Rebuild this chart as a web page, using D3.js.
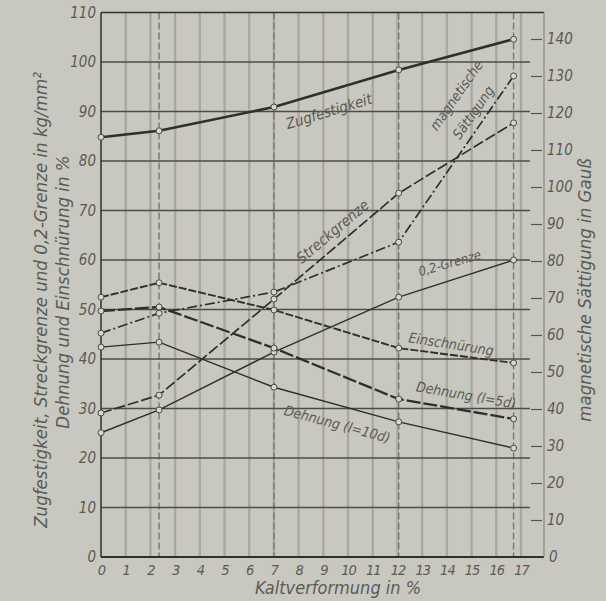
<!DOCTYPE html>
<html lang="de">
<head>
<meta charset="UTF-8" />
<title>Kaltverformung</title>
<script src="https://d3js.org/d3.v7.min.js"></script>
<style>
  html, body { margin: 0; padding: 0; background: #c9c8c0; }
  svg { display: block; background: #c9c8c0; }
  text { font-family: "DejaVu Sans Condensed", "Liberation Sans Narrow", "DejaVu Sans", sans-serif; font-style: italic; fill: #5a5a54; }
  .tick text { font-size: 15px; }
  .lbl { font-size: 14px; }
</style>
</head>
<body>
<svg width="606" height="601"></svg>
<script>
  // Kaltverformung in % (Messpunkte)
  const verformung = [0, 2.35, 7, 12.05, 16.7];

  // linke Skala (kg/mm² bzw. %)
  const zugfestigkeit  = [84.8, 86.1, 90.9, 98.4, 104.6];
  const streckgrenze   = [29.1, 32.7, 52.1, 73.5, 87.7];
  const grenze02       = [25.1, 29.7, 41.4, 52.5, 60.0];
  const einschnuerung  = [52.5, 55.4, 49.9, 42.2, 39.2];
  const dehnung5d      = [49.7, 50.5, 42.2, 31.9, 27.9];
  const dehnung10d     = [42.4, 43.4, 34.3, 27.3, 22.0];
  // rechte Skala (Gauß)
  const saettigung     = [60.5, 65.9, 71.6, 85.1, 130.0];

  const xTicks = d3.range(0, 18);
  const leftTicks = d3.range(0, 111, 10);
  const rightTicks = d3.range(0, 141, 10);

  const svg = d3.select("svg");
  const ink = "#2f2f2b";

  const x = d3.scaleLinear().domain([0, 17]).range([101, 521]);
  const yL = d3.scaleLinear().domain([0, 110]).range([557, 12.5]);
  const yR = d3.scaleLinear().domain([0, 140]).range([557, 39]);

  // vertikale Gitterlinien
  svg.append("g").selectAll("line")
    .data(xTicks.slice(1))
    .enter().append("line")
    .attr("x1", d => x(d)).attr("x2", d => x(d))
    .attr("y1", yL(110)).attr("y2", yL(0))
    .attr("stroke", "#a9a8a0").attr("stroke-width", 2.4);

  // gestrichelte Linien an den Messpunkten
  svg.append("g").selectAll("line")
    .data(verformung.slice(1))
    .enter().append("line")
    .attr("x1", d => x(d)).attr("x2", d => x(d))
    .attr("y1", yL(110)).attr("y2", yL(0))
    .attr("stroke", "#77766f").attr("stroke-width", 1.4)
    .attr("stroke-dasharray", "7,3");

  // waagerechte Gitterlinien
  svg.append("g").selectAll("line")
    .data(leftTicks.slice(1, -1))
    .enter().append("line")
    .attr("x1", 101).attr("x2", 530)
    .attr("y1", d => yL(d)).attr("y2", d => yL(d))
    .attr("stroke", "#4d4d47").attr("stroke-width", 1.3);

  // Rahmen
  svg.append("line").attr("x1", 101).attr("x2", 544).attr("y1", yL(110)).attr("y2", yL(110))
    .attr("stroke", ink).attr("stroke-width", 1.5);
  svg.append("line").attr("x1", 101).attr("x2", 544).attr("y1", yL(0)).attr("y2", yL(0))
    .attr("stroke", ink).attr("stroke-width", 1.8);
  svg.append("line").attr("x1", 101).attr("x2", 101).attr("y1", yL(110)).attr("y2", yL(0))
    .attr("stroke", ink).attr("stroke-width", 1.5);
  svg.append("line").attr("x1", 544).attr("x2", 544).attr("y1", yL(110)).attr("y2", yL(0))
    .attr("stroke", "#8a8982").attr("stroke-width", 1.2);

  // Achsen
  svg.append("g").attr("transform", "translate(101,0)")
    .call(d3.axisLeft(yL).tickValues(leftTicks).tickSize(0).tickPadding(5));
  const axR = svg.append("g").attr("transform", "translate(531,0)")
    .call(d3.axisRight(yR).tickValues(rightTicks.slice(1)).tickSize(11).tickPadding(5));
  svg.append("g").attr("transform", "translate(544,0)")
    .call(d3.axisRight(yR).tickValues([0]).tickSize(0).tickPadding(5));
  const axB = svg.append("g").attr("transform", `translate(0,${yL(0)})`)
    .call(d3.axisBottom(x).tickValues(xTicks).tickSize(0).tickPadding(8));
  svg.selectAll(".domain").remove();
  axR.selectAll(".tick line").attr("stroke", "#55554f").attr("stroke-width", 1.2);
  svg.selectAll(".tick text").attr("fill", "#5a5a54");
  axB.selectAll(".tick text")
    .style("font-size", "14.5px")
    .style("letter-spacing", "-1px");

  // Kurven
  const series = [
    {name: "Zugfestigkeit", v: zugfestigkeit, y: yL, w: 2.6, dash: null},
    {name: "Streckgrenze", v: streckgrenze, y: yL, w: 1.7, dash: "11,3"},
    {name: "0,2-Grenze", v: grenze02, y: yL, w: 1.4, dash: null},
    {name: "Einschnürung", v: einschnuerung, y: yL, w: 1.9, dash: "8,2"},
    {name: "Dehnung (l=5d)", v: dehnung5d, y: yL, w: 2.3, dash: "14,3"},
    {name: "Dehnung (l=10d)", v: dehnung10d, y: yL, w: 1.4, dash: null},
    {name: "magnetische Sättigung", v: saettigung, y: yR, w: 1.7, dash: "10,3,2,3"}
  ];

  const g = svg.append("g");
  series.forEach(s => {
    const pts = verformung.map((k, i) => [x(k), s.y(s.v[i])]);
    g.append("path")
      .attr("d", d3.line()(pts))
      .attr("fill", "none").attr("stroke", ink)
      .attr("stroke-width", s.w)
      .attr("stroke-dasharray", s.dash);
    g.selectAll(null).data(pts).enter().append("circle")
      .attr("cx", d => d[0]).attr("cy", d => d[1]).attr("r", 3)
      .attr("fill", "#d6d5ce").attr("stroke", "#4a4a45").attr("stroke-width", 1);
  });

  // Beschriftungen an den Kurven
  const labels = [
    {t: "Zugfestigkeit", x: 329, y: 112, a: -17, s: 15},
    {t: "Streckgrenze", x: 333, y: 232, a: -40, s: 15},
    {t: "magnetische", x: 457, y: 96, a: -55, s: 14},
    {t: "Sättigung", x: 474, y: 113, a: -55, s: 14},
    {t: "0,2-Grenze", x: 450, y: 264, a: -16, s: 13},
    {t: "Einschnürung", x: 451, y: 345, a: 9, s: 14},
    {t: "Dehnung (l=5d)", x: 466, y: 396, a: 10, s: 14},
    {t: "Dehnung (l=10d)", x: 337, y: 425, a: 15, s: 14}
  ];
  svg.append("g").selectAll("text")
    .data(labels).enter().append("text")
    .attr("class", "lbl")
    .attr("text-anchor", "middle")
    .attr("dominant-baseline", "middle")
    .attr("transform", d => `translate(${d.x},${d.y}) rotate(${d.a})`)
    .style("font-size", d => d.s + "px")
    .text(d => d.t);

  // Achsentitel
  svg.append("text")
    .attr("transform", "translate(42,300) rotate(-90)")
    .attr("text-anchor", "middle").attr("dominant-baseline", "middle")
    .style("font-size", "18.5px")
    .text("Zugfestigkeit, Streckgrenze und 0,2-Grenze in kg/mm²");
  svg.append("text")
    .attr("transform", "translate(64,292) rotate(-90)")
    .attr("text-anchor", "middle").attr("dominant-baseline", "middle")
    .style("font-size", "18.5px")
    .text("Dehnung und Einschnürung in %");
  svg.append("text")
    .attr("transform", "translate(586,290) rotate(-90)")
    .attr("text-anchor", "middle").attr("dominant-baseline", "middle")
    .style("font-size", "18.5px")
    .text("magnetische Sättigung in Gauß");
  svg.append("text")
    .attr("x", 338).attr("y", 594)
    .attr("text-anchor", "middle")
    .style("font-size", "18px")
    .text("Kaltverformung in %");
</script>
</body>
</html>
